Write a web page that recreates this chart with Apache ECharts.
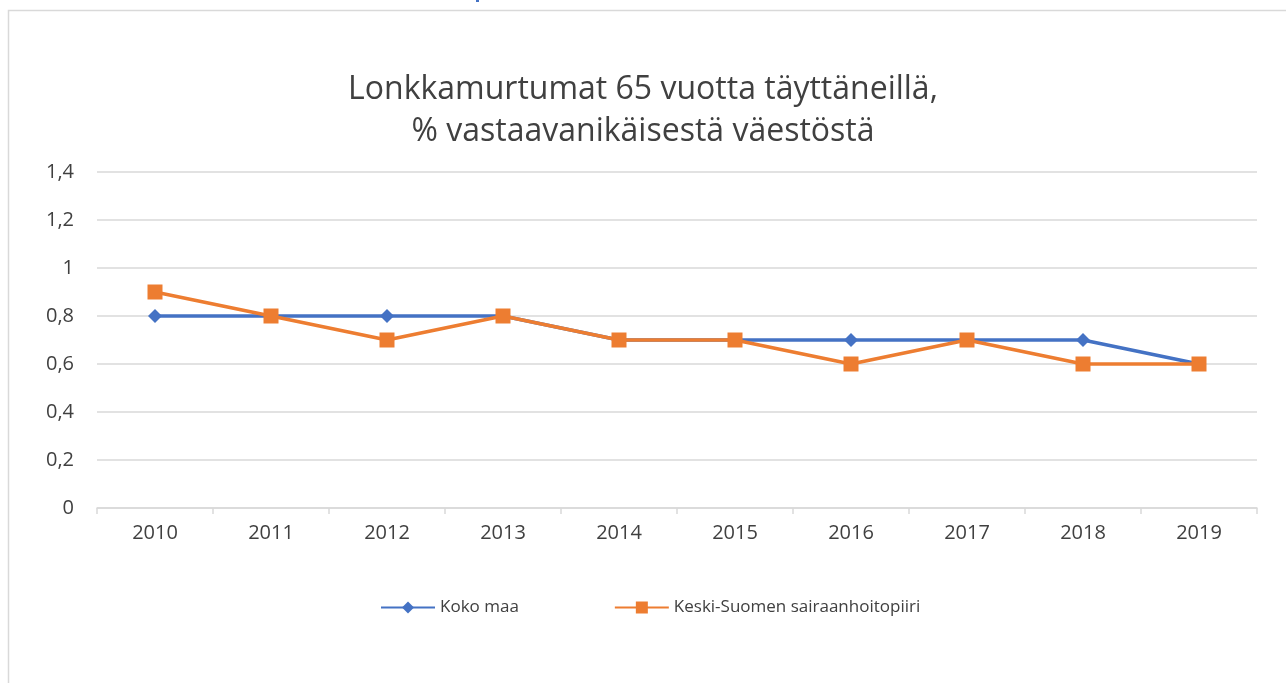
<!DOCTYPE html>
<html>
<head>
<meta charset="utf-8">
<script src="https://cdn.jsdelivr.net/npm/echarts@6/dist/echarts.min.js"></script>
<style>
  html, body { margin: 0; padding: 0; background: #fff; }
  #chart { width: 1286px; height: 683px; }
</style>
</head>
<body>
<div id="chart"></div>
<script>
// Lonkkamurtumat 65 vuotta täyttäneillä - viivakaavio
const vuodet = ["2010", "2011", "2012", "2013", "2014", "2015", "2016", "2017", "2018", "2019"];
const kokoMaa = [0.8, 0.8, 0.8, 0.8, 0.7, 0.7, 0.7, 0.7, 0.7, 0.6];
const keskiSuomi = [0.9, 0.8, 0.7, 0.8, 0.7, 0.7, 0.6, 0.7, 0.6, 0.6];
const sarjaNimet = ["Koko maa", "Keski-Suomen sairaanhoitopiiri"];
const otsikko = "Lonkkamurtumat 65 vuotta täyttäneillä,\n% vastaavanikäisestä väestöstä";

const fontti = "'Open Sans', sans-serif";
const chart = echarts.init(document.getElementById("chart"));

const option = {
  backgroundColor: "#fff",
  animation: false,
  graphic: [
    {
      type: "rect",
      shape: { x: 8.5, y: 10.5, width: 1300, height: 700 },
      style: { fill: "none", stroke: "#d9d9d9", lineWidth: 1.5 },
      silent: true,
    },
    {
      type: "rect",
      shape: { x: 476, y: 0, width: 3, height: 2 },
      style: { fill: "#4472c4" },
      silent: true,
    },
  ],
  title: {
    text: otsikko,
    left: "center",
    top: 64,
    textStyle: {
      fontFamily: fontti,
      fontSize: 32,
      fontWeight: "normal",
      color: "#404040",
      lineHeight: 42,
    },
  },
  legend: {
    data: sarjaNimet,
    top: 594,
    left: 375,
    itemWidth: 54,
    itemHeight: 15,
    itemGap: 95,
    textStyle: { fontFamily: fontti, fontSize: 17, color: "#404040" },
  },
  grid: { left: 97, right: 29, top: 172, bottom: 175 },
  xAxis: {
    type: "category",
    data: vuodet,
    boundaryGap: true,
    axisLine: { lineStyle: { color: "#d9d9d9", width: 1.5 } },
    axisTick: { show: true, length: 6, lineStyle: { color: "#d9d9d9", width: 1.5 } },
    axisLabel: { fontFamily: fontti, fontSize: 20, color: "#404040", margin: 15 },
  },
  yAxis: {
    type: "value",
    min: 0,
    max: 1.4,
    interval: 0.2,
    axisLine: { show: false },
    axisTick: { show: false },
    splitLine: { lineStyle: { color: "#d9d9d9", width: 1.5 } },
    axisLabel: {
      fontFamily: fontti,
      fontSize: 20,
      color: "#404040",
      margin: 23,
      formatter: function (v) {
        return String(Math.round(v * 10) / 10).replace(".", ",");
      },
    },
  },
  series: [
    {
      name: sarjaNimet[0],
      type: "line",
      data: kokoMaa,
      symbol: "diamond",
      symbolSize: 14,
      lineStyle: { color: "#4472c4", width: 3.5 },
      itemStyle: { color: "#4472c4" },
      z: 2,
    },
    {
      name: sarjaNimet[1],
      type: "line",
      data: keskiSuomi,
      symbol: "rect",
      symbolSize: 15,
      lineStyle: { color: "#ed7d31", width: 3.5 },
      itemStyle: { color: "#ed7d31" },
      z: 3,
    },
  ],
};

chart.setOption(option);
</script>
</body>
</html>
